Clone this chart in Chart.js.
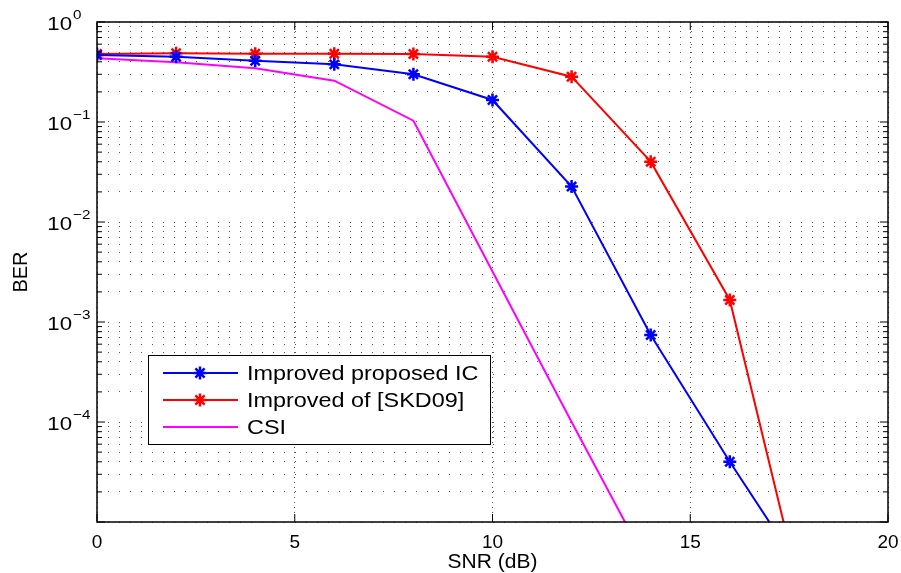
<!DOCTYPE html>
<html>
<head>
<meta charset="utf-8">
<script src="https://cdn.jsdelivr.net/npm/chart.js@4.4.1/dist/chart.umd.min.js"></script>
<style>
  html, body { margin: 0; padding: 0; background: #fff; }
</style>
</head>
<body>
<canvas id="berChart" width="901" height="573"></canvas>
<script>
// values (BER vs SNR)
const snr = [0, 2, 4, 6, 8, 10, 12, 14, 16, 18];
const proposedIC = [0.468, 0.45, 0.41, 0.377, 0.30, 0.166, 0.0226, 7.4e-4, 4.0e-5, 2.5e-6];
const skd09 = [0.479, 0.486, 0.482, 0.482, 0.479, 0.45, 0.284, 0.0401, 1.66e-3, 9e-7];
const csi = [0.433, 0.395, 0.344, 0.259, 0.103, 3.2e-3, 1.0e-4, 3.3e-6];
const seriesNames = ['Improved proposed IC', 'Improved of [SKD09]', 'CSI'];
const seriesColors = ['#0000ff', '#ff0000', '#ff00ff'];
const xTicks = [0, 5, 10, 15, 20];
const yLabelExps = [0, -1, -2, -3, -4];

const FONT = "'Liberation Sans', Arial, Helvetica, sans-serif";
const STRETCH = 1.17; // reference text is a bit wide

Chart.defaults.font.family = FONT;
Chart.defaults.color = '#000';

const toPoints = (xs, ys) => ys.map((y, i) => ({ x: xs[i], y }));

// every 1..9 x 10^e between 1e-5 and 1
const yGridValues = [];
for (let e = -5; e < 0; e++) {
    for (let m = 1; m <= 9; m++) yGridValues.push(m * Math.pow(10, e));
}
yGridValues.push(1);

function stretchText(ctx, text, x, y, align) {
    ctx.save();
    ctx.translate(x, y);
    ctx.scale(STRETCH, 1);
    ctx.textAlign = align;
    ctx.fillText(text, 0, 0);
    ctx.restore();
}

const matlabFrame = {
    id: 'matlabFrame',
    afterDraw(chart) {
        const { ctx, chartArea: a, scales } = chart;
        ctx.save();

        // inward tick marks
        ctx.strokeStyle = '#000';
        ctx.lineWidth = 1;
        ctx.beginPath();
        yGridValues.forEach(v => {
            const y = scales.y.getPixelForValue(v);
            const len = Math.abs(Math.log10(v) - Math.round(Math.log10(v))) < 1e-6 ? 8 : 5;
            ctx.moveTo(a.left, y); ctx.lineTo(a.left + len, y);
            ctx.moveTo(a.right, y); ctx.lineTo(a.right - len, y);
        });
        xTicks.forEach(v => {
            const x = scales.x.getPixelForValue(v);
            ctx.moveTo(x, a.bottom); ctx.lineTo(x, a.bottom - 8);
            ctx.moveTo(x, a.top); ctx.lineTo(x, a.top + 8);
        });
        ctx.stroke();

        // box
        ctx.lineWidth = 1.5;
        ctx.strokeRect(a.left, a.top, a.right - a.left, a.bottom - a.top);

        // y tick labels 10^n
        ctx.fillStyle = '#000';
        ctx.textBaseline = 'alphabetic';
        yLabelExps.forEach(e => {
            const y = scales.y.getPixelForValue(Math.pow(10, e));
            ctx.font = '19px ' + FONT;
            stretchText(ctx, '10', 72, y + 8, 'right');
            ctx.font = '13px ' + FONT;
            stretchText(ctx, e === 0 ? '0' : '\u2212' + Math.abs(e), 73, y - 3, 'left');
        });

        // legend box
        const bx = 148, by = 355, bw = 342, bh = 89;
        ctx.fillStyle = '#fff';
        ctx.fillRect(bx, by, bw, bh);
        ctx.strokeStyle = '#000';
        ctx.lineWidth = 1;
        ctx.strokeRect(bx + 0.5, by + 0.5, bw, bh);
        chart.data.datasets.forEach((ds, i) => {
            const y = by + 18 + i * 27;
            ctx.strokeStyle = ds.borderColor;
            ctx.lineWidth = 2;
            ctx.beginPath();
            ctx.moveTo(163, y); ctx.lineTo(238, y);
            ctx.stroke();
            if (ds.pointRadius > 0) {
                ctx.lineWidth = 2.5;
                Chart.helpers.drawPoint(ctx, { pointStyle: 'star', radius: 6.5, borderWidth: 2.5, rotation: 0 }, 200, y);
            }
            ctx.fillStyle = '#000';
            ctx.font = '20px ' + FONT;
            ctx.textBaseline = 'middle';
            stretchText(ctx, ds.label, 247, y + 1, 'left');
        });
        ctx.restore();
    }
};

const makeSet = (i, data, markers) => ({
    label: seriesNames[i],
    data,
    borderColor: seriesColors[i],
    backgroundColor: seriesColors[i],
    borderWidth: 2,
    pointStyle: 'star',
    pointRadius: markers ? 6.5 : 0,
    pointBorderWidth: 2.5,
    pointBorderColor: seriesColors[i],
    tension: 0
});

new Chart(document.getElementById('berChart'), {
    type: 'line',
    data: {
        datasets: [
            makeSet(0, toPoints(snr, proposedIC), true),
            makeSet(1, toPoints(snr, skd09), true),
            makeSet(2, toPoints(snr, csi), false)
        ]
    },
    options: {
        responsive: false,
        animation: false,
        layout: { padding: { top: 22, right: 13, left: 0, bottom: 0 } },
        plugins: { legend: { display: false }, tooltip: { enabled: false } },
        scales: {
            x: {
                type: 'linear',
                min: 0,
                max: 20,
                afterBuildTicks: s => { s.ticks = xTicks.map(v => ({ value: v })); },
                ticks: { font: { size: 19 }, color: '#000', padding: 9, maxRotation: 0, autoSkip: false },
                grid: { color: '#555', lineWidth: 1, drawTicks: false },
                border: { display: false, dash: [1, 4] },
                title: { display: true, text: 'SNR (dB)', font: { size: 21, lineHeight: 1 }, color: '#000', padding: { top: 0, bottom: 0 } },
                afterFit: s => { s.height = 51; s.paddingLeft = 0; s.paddingRight = 0; }
            },
            y: {
                type: 'logarithmic',
                min: 1e-5,
                max: 1,
                afterBuildTicks: s => { s.ticks = yGridValues.map(v => ({ value: v })); },
                ticks: { callback: () => '', autoSkip: false },
                grid: { color: '#555', lineWidth: 1, drawTicks: false },
                border: { display: false, dash: [1, 10] },
                title: { display: true, text: 'BER', font: { size: 20, lineHeight: 1 }, color: '#000', padding: { top: 11, bottom: 0 } },
                afterFit: s => { s.width = 97; s.paddingTop = 0; s.paddingBottom = 0; }
            }
        }
    },
    plugins: [matlabFrame]
});
</script>
</body>
</html>
